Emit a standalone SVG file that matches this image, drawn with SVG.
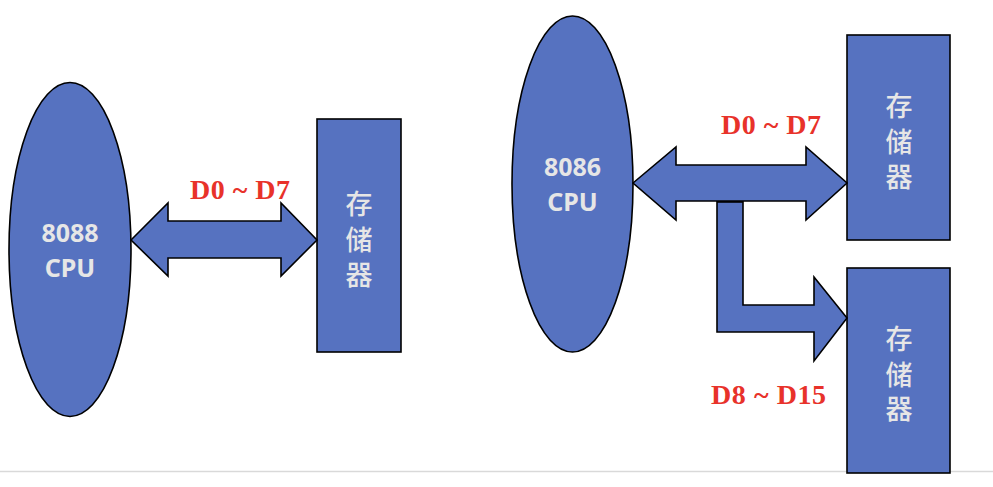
<svg xmlns="http://www.w3.org/2000/svg" width="993" height="487" viewBox="0 0 993 487">
<style>
.shape{fill:#5672C0;stroke:#000;stroke-width:1.6;stroke-linejoin:miter}
.cpu{font-family:"Noto Sans","Open Sans","DejaVu Sans",sans-serif;font-weight:bold;font-size:25px;fill:#E6E6E6;text-anchor:middle}
.mem{font-family:"Noto Sans CJK SC","Noto Sans",sans-serif;font-size:27px;font-weight:500;fill:#E6E6E6;text-anchor:middle}
.lbl{font-family:"Liberation Serif","Times New Roman",serif;font-weight:bold;font-size:28px;fill:#E8322A}
</style>
<rect width="993" height="487" fill="#fff"/>
<line x1="0" y1="471.5" x2="993" y2="471.5" stroke="#d9d9d9" stroke-width="1.5"/>

<g id="cpu8088">
<ellipse class="shape" cx="70" cy="249.5" rx="61" ry="167"/>
<text class="cpu" x="70" y="242">8088</text>
<text class="cpu" x="70" y="277">CPU</text>
</g>
<g id="mem-left">
<rect class="shape" x="317" y="119" width="84" height="233"/>
<text class="mem" x="359" y="214">存</text>
<text class="mem" x="359" y="250">储</text>
<text class="mem" x="359" y="285">器</text>
</g>

<g id="cpu8086">
<ellipse class="shape" cx="572.5" cy="184" rx="60.5" ry="168"/>
<text class="cpu" x="572.5" y="176">8086</text>
<text class="cpu" x="572.5" y="211">CPU</text>
</g>
<g id="mem-top">
<rect class="shape" x="847" y="35" width="103" height="205"/>
<text class="mem" x="899" y="116">存</text>
<text class="mem" x="899" y="152">储</text>
<text class="mem" x="899" y="187">器</text>
</g>
<g id="mem-bottom">
<rect class="shape" x="847" y="268" width="103" height="205"/>
<text class="mem" x="899" y="349">存</text>
<text class="mem" x="899" y="385">储</text>
<text class="mem" x="899" y="419">器</text>
</g>

<g id="connectors">
<path class="shape" d="M131,240 L168,203 L168,221 L281,221 L281,203 L317,240 L281,276 L281,258 L168,258 L168,276 Z"/>
<path class="shape" d="M717,201 L743,201 L743,305 L814,305 L814,277 L847,318 L814,361 L814,332 L717,332 Z"/>
<path class="shape" d="M633,183 L676,147 L676,165 L806,165 L806,147 L847,183 L806,220 L806,201 L676,201 L676,220 Z"/>
<line x1="717" y1="202" x2="743" y2="202" stroke="#000" stroke-width="1.6"/>
</g>

<g id="labels">
<text class="lbl" x="190" y="199" textLength="100">D0 ~ D7</text>
<text class="lbl" x="721" y="134" textLength="100">D0 ~ D7</text>
<text class="lbl" x="711" y="404" textLength="115">D8 ~ D15</text>
</g>
</svg>
